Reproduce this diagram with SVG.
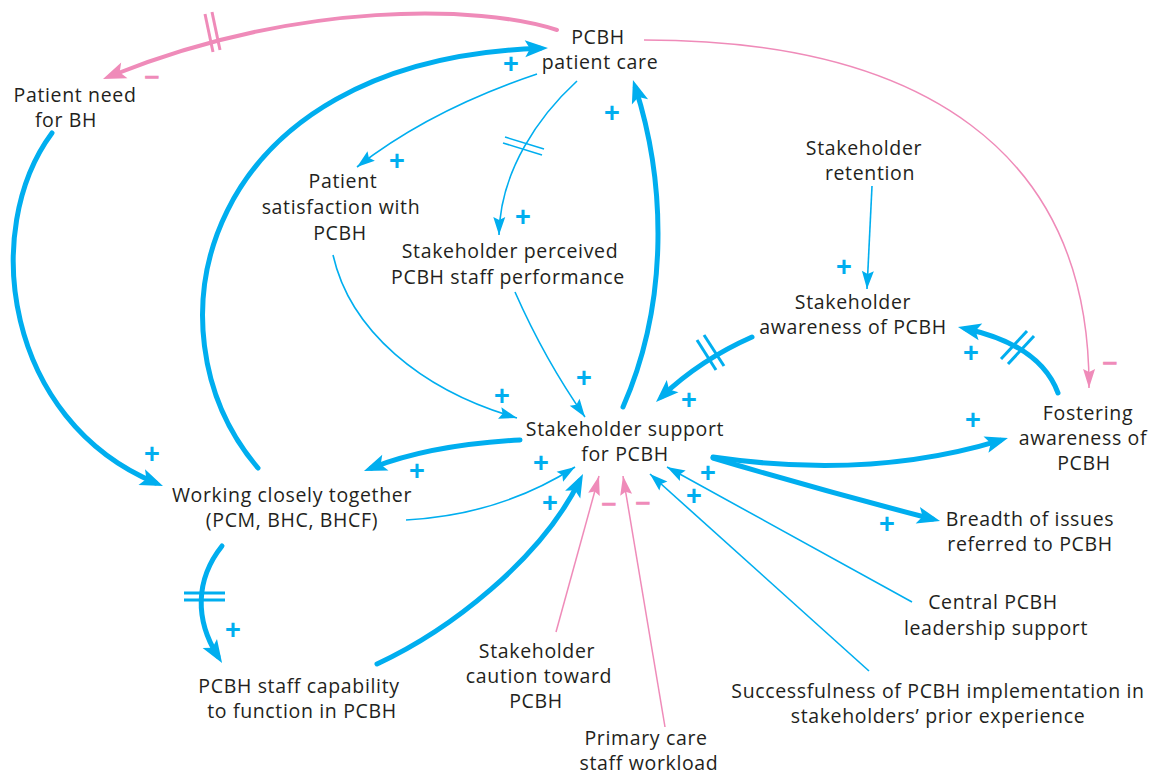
<svg xmlns="http://www.w3.org/2000/svg" width="1153" height="776" viewBox="0 0 1153 776">
  <style>
    .lbl { font-family: "Open Sans", "Liberation Sans", sans-serif; font-size: 19.5px; letter-spacing: 0.65px; fill: #231F20; text-anchor: middle; }
    .pos { font-family: "Liberation Sans", Arial, sans-serif; font-size: 27px; font-weight: 700; fill: #00AEEF; text-anchor: middle; }
    .neg { font-family: "Liberation Sans", Arial, sans-serif; font-size: 27px; font-weight: 700; fill: #EF8BB9; text-anchor: middle; }
    .bthick { fill: none; stroke: #00AEEF; stroke-width: 5; stroke-linecap: round; }
    .bthin { fill: none; stroke: #00AEEF; stroke-width: 1.6; }
    .pthick { fill: none; stroke: #EF8BB9; stroke-width: 4; stroke-linecap: round; }
    .pthin { fill: none; stroke: #EF8BB9; stroke-width: 1.5; }
    .hashB { stroke: #00AEEF; stroke-width: 3; fill: none; }
    .hashBt { stroke: #00AEEF; stroke-width: 1.5; fill: none; }
    .hashP { stroke: #EF8BB9; stroke-width: 3; fill: none; }
  </style>
  <defs>
    <marker id="ahBlueThin" markerUnits="userSpaceOnUse" orient="auto" refX="0" refY="0" markerWidth="20" markerHeight="14" viewBox="-19 -7 20 14" overflow="visible">
      <path d="M0,0 L-18,-6 L-15,0 L-18,6 Z" fill="#00AEEF"/>
    </marker>
    <marker id="ahBlueThick" markerUnits="userSpaceOnUse" orient="auto" refX="-8" refY="0" markerWidth="26" markerHeight="20" viewBox="-24 -10 26 20" overflow="visible">
      <path d="M0,0 L-23,-8.5 L-18,0 L-23,8.5 Z" fill="#00AEEF"/>
    </marker>
    <marker id="ahPinkThin" markerUnits="userSpaceOnUse" orient="auto" refX="0" refY="0" markerWidth="20" markerHeight="14" viewBox="-19 -7 20 14" overflow="visible">
      <path d="M0,0 L-19,-6 L-16,0 L-19,6 Z" fill="#EF8BB9"/>
    </marker>
    <marker id="ahPinkThick" markerUnits="userSpaceOnUse" orient="auto" refX="-8" refY="0" markerWidth="26" markerHeight="20" viewBox="-24 -10 26 20" overflow="visible">
      <path d="M0,0 L-23,-8.5 L-18,0 L-23,8.5 Z" fill="#EF8BB9"/>
    </marker>
  </defs>

  <rect width="1153" height="776" fill="#FFFFFF"/>

  <!-- causal links -->
  <g id="connectors">
    <!-- PCBH patient care -> Patient need for BH (delayed, negative) -->
    <path class="pthick" d="M557,30 C480,5 300,0 110.4,76" marker-end="url(#ahPinkThick)"/>
    <line class="hashP" x1="205" y1="14" x2="213" y2="52"/>
    <line class="hashP" x1="212" y1="12" x2="220" y2="50"/>
    <text class="neg" x="152" y="86">−</text>

    <!-- PCBH patient care -> Fostering awareness (negative) -->
    <path class="pthin" d="M644,40 C920,40 1090,150 1089,388" marker-end="url(#ahPinkThin)"/>
    <text class="neg" x="1110" y="372">−</text>

    <!-- Working closely together -> PCBH patient care -->
    <path class="bthick" d="M258,468 C140,330 200,60 540,48.3" marker-end="url(#ahBlueThick)"/>
    <text class="pos" x="511" y="73.4">+</text>

    <!-- Stakeholder support -> PCBH patient care -->
    <path class="bthick" d="M623,407 C670,300 665,180 635.4,87.6" marker-end="url(#ahBlueThick)"/>
    <text class="pos" x="612" y="122.4">+</text>

    <!-- PCBH patient care -> Patient satisfaction -->
    <path class="bthin" d="M537,74 Q430,110 357,167" marker-end="url(#ahBlueThin)"/>
    <text class="pos" x="397" y="170.4">+</text>

    <!-- PCBH patient care -> Stakeholder perceived staff performance (delayed) -->
    <path class="bthin" d="M577,81 C540,115 500,170 499,235" marker-end="url(#ahBlueThin)"/>
    <line class="hashBt" x1="505" y1="137" x2="544" y2="149"/>
    <line class="hashBt" x1="503" y1="143" x2="542" y2="155"/>
    <text class="pos" x="523" y="226.4">+</text>

    <!-- Patient satisfaction -> Stakeholder support -->
    <path class="bthin" d="M333,255 C350,330 420,390 517,418" marker-end="url(#ahBlueThin)"/>
    <text class="pos" x="502" y="405.4">+</text>

    <!-- Stakeholder perceived staff performance -> Stakeholder support -->
    <path class="bthin" d="M515,292 Q545,360 585,417" marker-end="url(#ahBlueThin)"/>
    <text class="pos" x="584" y="387.4">+</text>

    <!-- Stakeholder retention -> Stakeholder awareness -->
    <path class="bthin" d="M872,186 L867,289" marker-end="url(#ahBlueThin)"/>
    <text class="pos" x="844" y="276.4">+</text>

    <!-- Stakeholder awareness -> Stakeholder support (delayed) -->
    <path class="bthick" d="M752,337 Q700,360 661.8,396.5" marker-end="url(#ahBlueThick)"/>
    <line class="hashB" x1="697" y1="340" x2="716" y2="370"/>
    <line class="hashB" x1="704" y1="335" x2="724" y2="366"/>
    <text class="pos" x="689" y="409.4">+</text>

    <!-- Fostering awareness -> Stakeholder awareness (delayed) -->
    <path class="bthick" d="M1058,393 Q1040,345 965.8,328.7" marker-end="url(#ahBlueThick)"/>
    <line class="hashB" x1="1001" y1="359" x2="1027" y2="331"/>
    <line class="hashB" x1="1008" y1="364" x2="1034" y2="336"/>
    <text class="pos" x="971" y="362.4">+</text>

    <!-- Stakeholder support -> Fostering awareness -->
    <path class="bthick" d="M713,457 Q870,480 1000.3,440.3" marker-end="url(#ahBlueThick)"/>
    <text class="pos" x="973" y="429.4">+</text>

    <!-- Stakeholder support -> Breadth of issues -->
    <path class="bthick" d="M713,458 Q820,490 932.3,519" marker-end="url(#ahBlueThick)"/>
    <text class="pos" x="887" y="533.4">+</text>

    <!-- Central PCBH leadership support -> Stakeholder support -->
    <path class="bthin" d="M912,602 L667,467" marker-end="url(#ahBlueThin)"/>
    <text class="pos" x="708" y="482.4">+</text>

    <!-- Successfulness in prior experience -> Stakeholder support -->
    <path class="bthin" d="M869,671 L650,474" marker-end="url(#ahBlueThin)"/>
    <text class="pos" x="694" y="505.4">+</text>

    <!-- Stakeholder caution -> Stakeholder support (negative) -->
    <path class="pthin" d="M556,632 L599,476" marker-end="url(#ahPinkThin)"/>
    <text class="neg" x="609" y="513">−</text>

    <!-- Primary care staff workload -> Stakeholder support (negative) -->
    <path class="pthin" d="M665,727 L623,476" marker-end="url(#ahPinkThin)"/>
    <text class="neg" x="643" y="512">−</text>

    <!-- PCBH staff capability -> Stakeholder support -->
    <path class="bthick" d="M377,664 C450,630 540,560 579.4,481.2" marker-end="url(#ahBlueThick)"/>
    <text class="pos" x="550" y="512.4">+</text>

    <!-- Working closely together -> Stakeholder support -->
    <path class="bthin" d="M406,520 Q500,515 575,467" marker-end="url(#ahBlueThin)"/>
    <text class="pos" x="541" y="472.4">+</text>

    <!-- Stakeholder support -> Working closely together -->
    <path class="bthick" d="M520,440 Q430,445 371.4,468.1" marker-end="url(#ahBlueThick)"/>
    <text class="pos" x="417" y="480.4">+</text>

    <!-- Patient need for BH -> Working closely together -->
    <path class="bthick" d="M52,133 C-20,230 5,420 155.6,482.9" marker-end="url(#ahBlueThick)"/>
    <text class="pos" x="152" y="463.4">+</text>

    <!-- Working closely together -> PCBH staff capability (delayed) -->
    <path class="bthick" d="M222,546 C195,580 195,620 217.8,656.2" marker-end="url(#ahBlueThick)"/>
    <line class="hashB" x1="184" y1="593" x2="225" y2="593"/>
    <line class="hashB" x1="184" y1="600" x2="225" y2="600"/>
    <text class="pos" x="233" y="639.4">+</text>
  </g>

  <!-- variables -->
  <g id="node-pcbh-patient-care">
    <text class="lbl"><tspan x="598" y="44">PCBH</tspan><tspan x="600" y="69">patient care</tspan></text>
  </g>
  <g id="node-patient-need">
    <text class="lbl"><tspan x="75" y="102">Patient need</tspan><tspan x="66" y="127">for BH</tspan></text>
  </g>
  <g id="node-patient-satisfaction">
    <text class="lbl"><tspan x="343" y="188">Patient</tspan><tspan x="341" y="214">satisfaction with</tspan><tspan x="340" y="240">PCBH</tspan></text>
  </g>
  <g id="node-perceived-performance">
    <text class="lbl"><tspan x="510" y="258">Stakeholder perceived</tspan><tspan x="508" y="284">PCBH staff performance</tspan></text>
  </g>
  <g id="node-stakeholder-retention">
    <text class="lbl"><tspan x="864" y="155">Stakeholder</tspan><tspan x="870" y="180">retention</tspan></text>
  </g>
  <g id="node-stakeholder-awareness">
    <text class="lbl"><tspan x="853" y="309">Stakeholder</tspan><tspan x="853" y="334">awareness of PCBH</tspan></text>
  </g>
  <g id="node-fostering-awareness">
    <text class="lbl"><tspan x="1088" y="420">Fostering</tspan><tspan x="1083" y="445">awareness of</tspan><tspan x="1084" y="470">PCBH</tspan></text>
  </g>
  <g id="node-stakeholder-support">
    <text class="lbl"><tspan x="625" y="436">Stakeholder support</tspan><tspan x="625" y="461">for PCBH</tspan></text>
  </g>
  <g id="node-working-closely">
    <text class="lbl"><tspan x="292" y="502">Working closely together</tspan><tspan x="292" y="527">(PCM, BHC, BHCF)</tspan></text>
  </g>
  <g id="node-breadth-of-issues">
    <text class="lbl"><tspan x="1030" y="526">Breadth of issues</tspan><tspan x="1030" y="551">referred to PCBH</tspan></text>
  </g>
  <g id="node-central-leadership">
    <text class="lbl"><tspan x="993" y="609">Central PCBH</tspan><tspan x="996" y="635">leadership support</tspan></text>
  </g>
  <g id="node-staff-capability">
    <text class="lbl"><tspan x="299" y="693">PCBH staff capability</tspan><tspan x="302" y="718">to function in PCBH</tspan></text>
  </g>
  <g id="node-stakeholder-caution">
    <text class="lbl"><tspan x="537" y="658">Stakeholder</tspan><tspan x="539" y="683">caution toward</tspan><tspan x="536" y="708">PCBH</tspan></text>
  </g>
  <g id="node-staff-workload">
    <text class="lbl"><tspan x="646" y="745">Primary care</tspan><tspan x="649" y="770">staff workload</tspan></text>
  </g>
  <g id="node-prior-experience">
    <text class="lbl"><tspan x="938" y="698">Successfulness of PCBH implementation in</tspan><tspan x="938" y="723">stakeholders’ prior experience</tspan></text>
  </g>
</svg>
